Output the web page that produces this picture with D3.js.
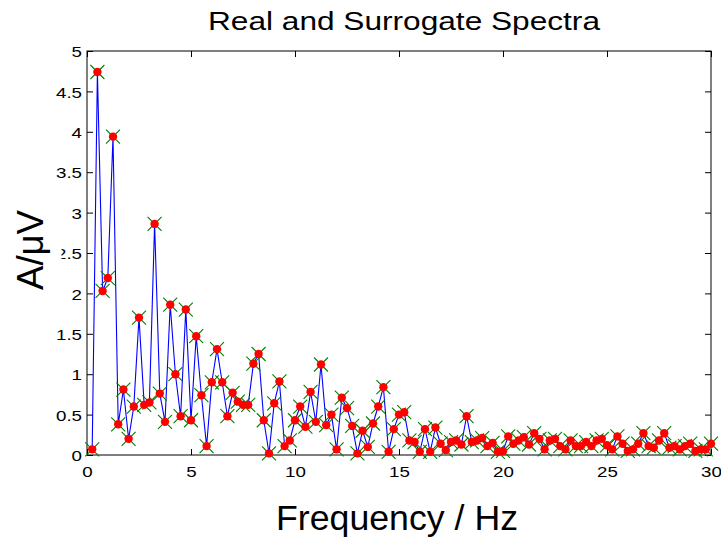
<!DOCTYPE html>
<html><head><meta charset="utf-8">
<script src="https://cdn.jsdelivr.net/npm/d3@7"></script>
<style>html,body{margin:0;padding:0;background:#fff;} svg{display:block;font-family:"Liberation Sans",Arial,Helvetica,sans-serif;}</style>
</head><body><svg id="chart" width="721" height="544"></svg>
<script>
const titleText = "Real and Surrogate Spectra";
const xLabelText = "Frequency / Hz";
const yLabelText = "A/μV";
const freqStep = 0.25; // spectral resolution (Hz)
const xTickValues = [0, 5, 10, 15, 20, 25, 30];
const yTickValues = [0, 0.5, 1, 1.5, 2, 2.5, 3, 3.5, 4, 4.5, 5];
const realAmp = [
  0.07, 4.74, 2.03, 2.19, 3.94, 0.38, 0.81, 0.20, 0.60, 1.70,
  0.62, 0.65, 2.86, 0.76, 0.41, 1.86, 1.00, 0.48, 1.80, 0.43,
  1.47, 0.74, 0.11, 0.90, 1.31, 0.90, 0.48, 0.77, 0.66, 0.62,
  0.62, 1.13, 1.25, 0.43, 0.02, 0.64, 0.91, 0.11, 0.18, 0.43,
  0.60, 0.35, 0.78, 0.41, 1.12, 0.37, 0.50, 0.07, 0.71, 0.58,
  0.36, 0.02, 0.30, 0.10, 0.39, 0.60, 0.84, 0.04, 0.32, 0.50,
  0.53, 0.18, 0.16, 0.04, 0.32, 0.04, 0.34, 0.14, 0.06, 0.16,
  0.18, 0.13, 0.48, 0.16, 0.18, 0.21, 0.11, 0.15, 0.04, 0.05,
  0.23, 0.14, 0.18, 0.22, 0.13, 0.27, 0.20, 0.07, 0.18, 0.20,
  0.11, 0.07, 0.18, 0.11, 0.11, 0.16, 0.11, 0.18, 0.20, 0.12,
  0.07, 0.23, 0.14, 0.05, 0.07, 0.14, 0.27, 0.11, 0.09, 0.18,
  0.27, 0.09, 0.11, 0.07, 0.11, 0.14, 0.05, 0.07, 0.07, 0.14
];
const surrogateAmp = [
  0.07, 4.74, 2.03, 2.19, 3.94, 0.38, 0.81, 0.20, 0.60, 1.70,
  0.62, 0.65, 2.86, 0.76, 0.41, 1.86, 1.00, 0.48, 1.80, 0.43,
  1.47, 0.74, 0.11, 0.90, 1.31, 0.90, 0.48, 0.77, 0.66, 0.62,
  0.62, 1.13, 1.25, 0.43, 0.02, 0.64, 0.91, 0.11, 0.18, 0.43,
  0.60, 0.35, 0.78, 0.41, 1.12, 0.37, 0.50, 0.07, 0.71, 0.58,
  0.36, 0.02, 0.30, 0.10, 0.39, 0.60, 0.84, 0.04, 0.32, 0.50,
  0.53, 0.18, 0.16, 0.04, 0.32, 0.04, 0.34, 0.14, 0.06, 0.16,
  0.18, 0.13, 0.48, 0.16, 0.18, 0.21, 0.11, 0.15, 0.04, 0.05,
  0.23, 0.14, 0.18, 0.22, 0.13, 0.27, 0.20, 0.07, 0.18, 0.20,
  0.11, 0.07, 0.18, 0.11, 0.11, 0.16, 0.11, 0.18, 0.20, 0.12,
  0.07, 0.23, 0.14, 0.05, 0.07, 0.14, 0.27, 0.11, 0.09, 0.18,
  0.27, 0.09, 0.11, 0.07, 0.11, 0.14, 0.05, 0.07, 0.07, 0.14
];
const freqs = realAmp.map((_, i) => (i + 1) * freqStep);

(function draw() {
const W = 721, H = 544;
const pL = 87, pR = 711, pT = 51, pB = 455;
const svg = d3.select("#chart");
svg.append("rect").attr("width", W).attr("height", H).attr("fill", "#fff");

const x = d3.scaleLinear().domain([0, 30]).range([pL, pR]);
const y = d3.scaleLinear().domain([0, 5]).range([pB, pT]);
const fmt = d => String(d);
const SX = 1.25; // horizontal stretch of tick label glyphs

const gx = svg.append("g").attr("transform", `translate(0,${pB})`)
  .call(d3.axisBottom(x).tickValues(xTickValues).tickSizeInner(-6).tickSizeOuter(0).tickFormat(fmt));
gx.selectAll("text").attr("y", 22).attr("dy", 0).attr("transform", `scale(${SX},1)`);
const gy = svg.append("g").attr("transform", `translate(${pL},0)`)
  .call(d3.axisLeft(y).tickValues(yTickValues).tickSizeInner(-6).tickSizeOuter(0).tickFormat(fmt));
gy.selectAll("text").attr("x", -5 / SX).attr("dy", "0.38em").attr("transform", `scale(${SX},1)`);
svg.append("g").attr("transform", `translate(0,${pT})`)
  .call(d3.axisTop(x).tickValues(xTickValues).tickSizeInner(-6).tickSizeOuter(0).tickFormat(""));
svg.append("g").attr("transform", `translate(${pR},0)`)
  .call(d3.axisRight(y).tickValues(yTickValues).tickSizeInner(-6).tickSizeOuter(0).tickFormat(""));
svg.selectAll(".domain").remove();
svg.selectAll(".tick line").attr("stroke", "#000");
svg.selectAll(".tick text").attr("font-size", 15).attr("fill", "#000")
  .attr("font-family", '"Liberation Sans",Arial,sans-serif');
svg.append("rect").attr("x", pL).attr("y", pT).attr("width", pR - pL).attr("height", pB - pT)
  .attr("fill", "none").attr("stroke", "#000").attr("stroke-width", 1);

const line = d3.line().x((d, i) => x(freqs[i])).y(d => y(d));
svg.append("path").datum(realAmp).attr("d", line)
  .attr("fill", "none").attr("stroke", "#0000ff").attr("stroke-width", 1.1);

const s = 7;
const xm = svg.append("g").selectAll("g").data(surrogateAmp).join("g")
  .attr("transform", (d, i) => `translate(${x(freqs[i])},${y(d)})`);
xm.append("path").attr("d", `M${-s},${-s}L${s},${s}M${-s},${s}L${s},${-s}`)
  .attr("stroke", "#008000").attr("stroke-width", 1.1).attr("fill", "none");

svg.append("g").selectAll("circle").data(realAmp).join("circle")
  .attr("cx", (d, i) => x(freqs[i])).attr("cy", d => y(d)).attr("r", 4.2).attr("fill", "#ff0000");

svg.append("text").attr("x", 404).attr("y", 30).attr("text-anchor", "middle")
  .attr("font-size", 26.5).attr("textLength", 392).attr("lengthAdjust", "spacingAndGlyphs")
  .text(titleText);
svg.append("text").attr("x", 397).attr("y", 530).attr("text-anchor", "middle")
  .attr("font-size", 35).attr("textLength", 242).attr("lengthAdjust", "spacingAndGlyphs")
  .text(xLabelText);
svg.append("rect").attr("x", 5).attr("y", 206).attr("width", 56.5).attr("height", 88).attr("fill", "#fff");
svg.append("text").attr("transform", "translate(43,250) rotate(-90)").attr("text-anchor", "middle")
  .attr("font-size", 36).attr("textLength", 80).attr("lengthAdjust", "spacingAndGlyphs")
  .text(yLabelText);
})();
</script></body></html>
